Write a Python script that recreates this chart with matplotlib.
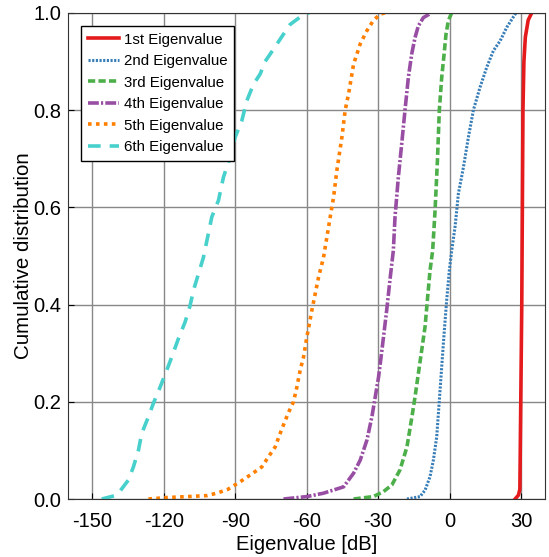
import matplotlib
matplotlib.use("Agg")
import matplotlib.pyplot as plt

plt.rcParams['font.family'] = ['Liberation Sans', 'DejaVu Sans']
plt.rcParams['axes.unicode_minus'] = False

# CDF curves (x in dB, y cumulative probability)
eig1_x = [27.5, 28.9, 29.5, 30.3, 30.8, 31.2, 31.8, 33.0, 34.5]
eig1_y = [0.0, 0.008, 0.02, 0.4, 0.8, 0.9, 0.95, 0.985, 1.0]

eig2_x = [-17.9, -12.4, -10.3, -8.2, -6.8, -5.4, -4.3, -3.3, -2.3, -1.2, -0.1, 0.9,
          2.3, 3.7, 5.8, 7.9, 10.0, 12.8, 15.6, 18.4, 21.2, 24.0, 27.5, 28.0]
eig2_y = [0.0, 0.005, 0.018, 0.046, 0.08, 0.128, 0.203, 0.272, 0.34, 0.41, 0.47, 0.511,
          0.56, 0.628, 0.682, 0.744, 0.80, 0.847, 0.888, 0.922, 0.942, 0.97, 0.997, 1.0]

eig3_x = [-40.3, -32.0, -27.8, -24.2, -20.8, -17.9, -15.8, -14.5, -13.1, -11.7, -10.3,
          -9.3, -8.2, -7.1, -6.1, -5.1, -4.3, -3.3, -2.3, -1.5, -0.5, 0.9]
eig3_y = [0.0, 0.005, 0.015, 0.029, 0.06, 0.107, 0.169, 0.21, 0.258, 0.306, 0.354,
          0.41, 0.47, 0.511, 0.593, 0.696, 0.80, 0.867, 0.915, 0.956, 0.984, 1.0]

eig4_x = [-69.7, -59.9, -52.9, -44.5, -40.3, -37.5, -34.7, -32.6, -31.2, -29.8, -28.4,
          -26.4, -24.9, -23.6, -22.9, -21.5, -20.1, -18.7, -17.3, -15.9, -14.5, -13.1,
          -11.0, -8.9, -8.3]
eig4_y = [0.0, 0.005, 0.012, 0.025, 0.053, 0.08, 0.121, 0.169, 0.21, 0.251, 0.306,
          0.388, 0.456, 0.511, 0.58, 0.662, 0.73, 0.80, 0.867, 0.915, 0.949, 0.973,
          0.99, 0.996, 1.0]

eig5_x = [-126.4, -118.7, -110.0, -101.9, -97.7, -93.0, -90.7, -86.5, -82.3, -78.8,
          -76.0, -73.2, -71.1, -69.5, -67.6, -65.5, -64.1, -62.7, -61.3, -59.9, -57.8,
          -56.4, -55.0, -52.9, -50.1, -48.7, -47.3, -45.2, -43.8, -42.4, -40.3, -37.5,
          -34.7, -32.0, -29.2, -27.0]
eig5_y = [0.0, 0.003, 0.005, 0.007, 0.012, 0.02, 0.027, 0.04, 0.054, 0.066,
          0.087, 0.107, 0.135, 0.155, 0.178, 0.2, 0.23, 0.265, 0.292, 0.333, 0.388,
          0.422, 0.456, 0.497, 0.58, 0.62, 0.676, 0.744, 0.80, 0.833, 0.894, 0.936,
          0.963, 0.984, 0.997, 1.0]

eig6_x = [-146.0, -139.6, -134.8, -132.7, -130.6, -129.2, -126.4, -124.3, -121.5, -118.7,
          -116.6, -113.8, -111.0, -108.9, -107.5, -105.4, -103.3, -99.8, -97.0, -94.9,
          -92.1, -90.0, -87.2, -85.1, -82.3, -79.5, -77.4, -73.9, -69.7, -66.9, -62.5, -59.0]
eig6_y = [0.0, 0.008, 0.039, 0.066, 0.10, 0.135, 0.169, 0.197, 0.23, 0.265,
          0.292, 0.33, 0.364, 0.398, 0.429, 0.463, 0.497, 0.58, 0.614, 0.662,
          0.703, 0.744, 0.778, 0.819, 0.853, 0.874, 0.90, 0.925, 0.956, 0.976, 0.992, 1.0]

labels = ['1st Eigenvalue', '2nd Eigenvalue', '3rd Eigenvalue',
          '4th Eigenvalue', '5th Eigenvalue', '6th Eigenvalue']
colors = ['#e41a1c', '#377eb8', '#4daf4a', '#984ea3', '#ff7f00', '#48d1cc']
styles = ['-', (0, (0.7, 0.5)), (0, (2, 0.9)), (0, (3, 0.6, 0.6, 0.6)),
          (0, (1, 1.2)), (0, (3.5, 2.5))]
widths = [2.6, 2.2, 2.6, 2.6, 2.6, 2.6]

curves = [(eig1_x, eig1_y), (eig2_x, eig2_y), (eig3_x, eig3_y),
          (eig4_x, eig4_y), (eig5_x, eig5_y), (eig6_x, eig6_y)]

fig = plt.figure(figsize=(5.49, 5.57), dpi=100)
ax = fig.add_axes([0.1245, 0.1041, 0.868, 0.873])

for (x, y), lab, c, ls, lw in zip(curves, labels, colors, styles, widths):
    ax.plot(x, y, color=c, linestyle=ls, linewidth=lw, label=lab)

ax.set_xlim(-160, 40)
ax.set_ylim(0, 1)
ax.set_xticks([-150, -120, -90, -60, -30, 0, 30])
ax.set_yticks([0.0, 0.2, 0.4, 0.6, 0.8, 1.0])
ax.set_yticklabels(['0.0', '0.2', '0.4', '0.6', '0.8', '1.0'])
ax.tick_params(direction='in', length=4, labelsize=14.5, top=False, right=False)
ax.tick_params(axis='x', pad=9)
ax.tick_params(axis='y', pad=5)
ax.grid(True, color='#888888', linewidth=1.0)
ax.set_axisbelow(True)
for s in ax.spines.values():
    s.set_color('#333333')
ax.set_xlabel('Eigenvalue [dB]', fontsize=14.5, labelpad=3)
ax.set_ylabel('Cumulative distribution', fontsize=14.8)
ax.yaxis.set_label_coords(-0.074, 0.5)

leg = ax.legend(loc='upper left', bbox_to_anchor=(0.027, 0.973), borderaxespad=0,
                fontsize=10.8, fancybox=False, framealpha=1, edgecolor='black',
                handlelength=2.1, handletextpad=0.3, borderpad=0.45,
                labelspacing=0.5)
leg.get_frame().set_linewidth(1.0)

fig.savefig('out.png', dpi=100)
